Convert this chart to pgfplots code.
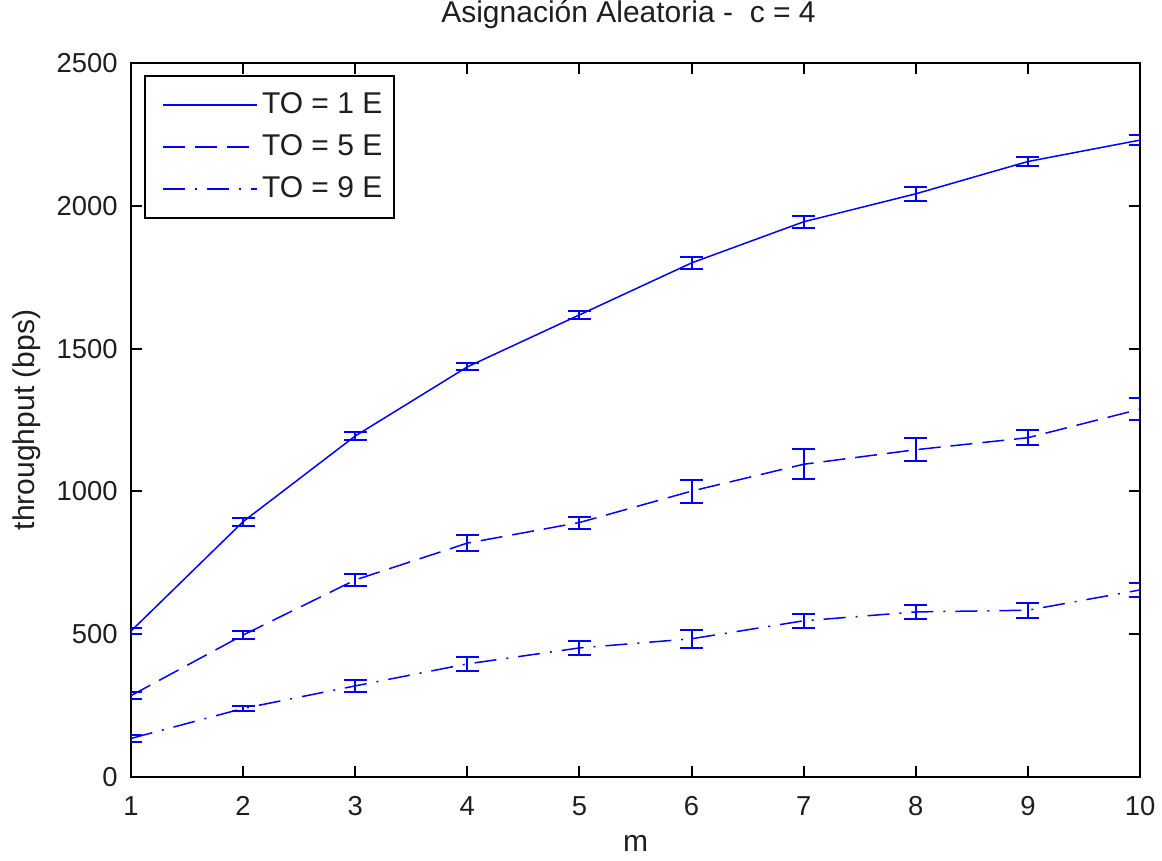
\documentclass[border=0pt]{standalone}
\usepackage{pgfplots}
\pgfplotsset{compat=1.18}
\usepackage{fontspec}
\setmainfont{Liberation Sans}
\definecolor{mblue}{RGB}{0,0,255}
\definecolor{mtext}{RGB}{30,30,30}
\begin{document}
\begin{tikzpicture}[font=\fontsize{15}{18}\selectfont]
\begin{axis}[
  scale only axis,
  width=504.5pt, height=357pt,
  xmin=1, xmax=10, ymin=0, ymax=2500,
  clip marker paths=true,
  clip mode=individual,
  xtick={1,2,...,10},
  ytick={0,500,1000,1500,2000,2500},
  /pgf/number format/assume math mode=true,
  scaled y ticks=false,
  yticklabel style={/pgf/number format/1000 sep={}},
  tick label style={font=\fontsize{13.7}{16.5}\selectfont},
  tick align=inside,
  major tick length=5.5pt,
  axis line style={line width=1pt, black},
  every tick/.style={black, line width=1pt},
  xticklabel style={anchor=base, yshift=-19pt, inner sep=0pt, text=mtext},
  yticklabel style={anchor=east, inner sep=0pt, xshift=-6.5pt, text=mtext},
  title={Asignación Aleatoria -\ \ c = 4},
  title style={at={(axis description cs:0.5,1.0399)}, anchor=base, inner sep=0pt, xshift=-3.5pt, text=mtext},
  xlabel={m},
  xlabel style={at={(axis description cs:0.5,-0.105)}, anchor=base, inner sep=0pt, text=mtext},
  ylabel={throughput (bps)},
  ylabel style={at={(axis description cs:-0.0961,0.5)}, anchor=base, inner sep=0pt, text=mtext},
  legend style={at={(rel axis cs:0,1)}, anchor=north west, xshift=6.5pt, yshift=-6pt,
    draw=black, line width=1pt, fill=white, inner xsep=4pt, inner ysep=6.5pt,
    row sep=5pt, text=mtext, nodes={inner sep=2pt}},
  legend cell align=left,
  legend image code/.code={\draw[white, line width=0.2pt] (0pt,0pt) -- (5pt,0pt); \draw[#1, mblue, line width=0.8pt] (5pt,0pt) -- (52pt,0pt);},
  error bars/error bar style={line width=1pt, solid},
  error bars/error mark options={rotate=90, mark size=5.75pt, line width=1pt, solid},
]
\addplot[mblue, line width=0.75pt, solid, mark=none,
  error bars/.cd, y dir=both, y explicit]
  table[x=x, y=y, y error=e] {
x y e
1 511 10
2 894 14
3 1194 15
4 1436 12
5 1618 13
6 1800 20
7 1944 21
8 2042 25
9 2155 15
10 2230 17
};
\addlegendentry{TO = 1 E}
\addplot[mblue, line width=0.75pt, dash pattern=on 11pt off 5pt, mark=none,
  error bars/.cd, y dir=both, y explicit]
  table[x=x, y=y, y error=e] {
x y e
1 285 13
2 497 13
3 690 21
4 819 27
5 891 21
6 1001 40
7 1095 53
8 1146 40
9 1188 27
10 1288 38
};
\addlegendentry{TO = 5 E}
\addplot[mblue, line width=0.75pt, dash pattern=on 11pt off 5pt on 1pt off 5pt, mark=none,
  error bars/.cd, y dir=both, y explicit]
  table[x=x, y=y, y error=e] {
x y e
1 135 12
2 240 10
3 319 21
4 396 25
5 452 24
6 484 31
7 547 25
8 578 25
9 584 27
10 655 23
};
\addlegendentry{TO = 9 E}
\end{axis}
\path ([shift={(-65.5pt,-41.5pt)}]current axis.south west) rectangle ([shift={(11pt,31.5pt)}]current axis.north east);
\end{tikzpicture}
\end{document}
